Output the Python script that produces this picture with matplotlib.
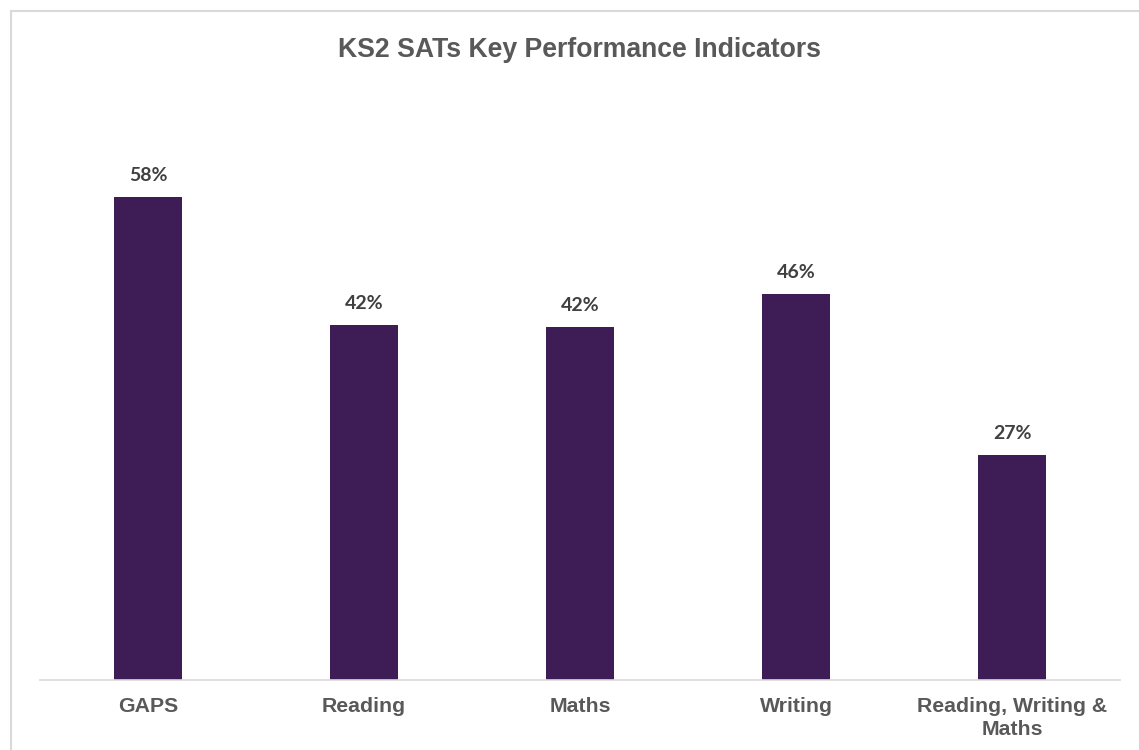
import matplotlib
matplotlib.use("Agg")
import matplotlib.pyplot as plt
from matplotlib.patches import Rectangle

categories = ["GAPS", "Reading", "Maths", "Writing", "Reading, Writing &\nMaths"]
values = [0.58, 0.426, 0.424, 0.463, 0.27]
value_labels = ["58%", "42%", "42%", "46%", "27%"]

W, H = 1139, 750
fig = plt.figure(figsize=(W / 100, H / 100), dpi=100)
fig.patch.set_facecolor("white")

# outer chart border
fig.patches.append(Rectangle((11 / W, -0.05), 1.2, 1 - 11 / H + 0.05, transform=fig.transFigure,
                             fill=False, edgecolor="#D9D9D9", linewidth=1.5))

ax = fig.add_axes([40 / W, 1 - 680 / H, 1080 / W, 583 / H])
x = list(range(len(categories)))
ax.bar(x, values, width=0.315, color="#3E1C56")
ax.set_xlim(-0.5, len(categories) - 0.5)
ax.set_ylim(0, 0.70)
for xi, v, lab in zip(x, values, value_labels):
    ax.annotate(lab, (xi, v), xytext=(0, 9.5), textcoords="offset points", ha="center", va="bottom",
                fontsize=14, fontweight="bold", color="#404040", family="Lato")

for s in ["top", "right", "left"]:
    ax.spines[s].set_visible(False)
ax.spines["bottom"].set_color("#D9D9D9")
ax.spines["bottom"].set_linewidth(1.2)
ax.set_yticks([])
ax.set_xticks(x)
ax.set_xticklabels(categories, fontsize=15.3, fontweight="bold", color="#595959",
                   family="Liberation Sans", linespacing=1.3)
ax.tick_params(axis="x", length=0, pad=12)

fig.text(580 / W, 1 - 50 / H, "KS2 SATs Key Performance Indicators", ha="center", va="center",
         fontsize=19.2, fontweight="bold", color="#595959", family="Liberation Sans")

fig.savefig("out.png", dpi=100, facecolor="white")
